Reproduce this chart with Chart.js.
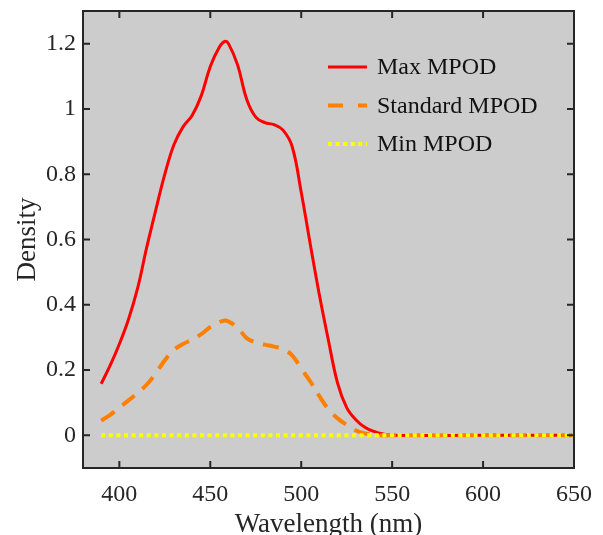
<!DOCTYPE html>
<html>
<head>
<meta charset="utf-8">
<script src="https://cdn.jsdelivr.net/npm/chart.js@4/dist/chart.umd.min.js"></script>
<style>
  body { margin: 0; background: #fff; }
  canvas { display: block; }
</style>
</head>
<body>
<canvas id="myChart" width="603" height="535"></canvas>
<script>
// data
const wavelengths = [390, 395, 400, 405, 410, 415, 420, 425, 430, 435, 440, 445, 450, 455, 458, 460,
  465, 470, 475, 480, 485, 490, 495, 500, 505, 510, 515, 520, 525, 530, 535, 540, 545, 550, 600, 650];
const maxMpod = [0.158, 0.215, 0.28, 0.355, 0.45, 0.575, 0.69, 0.8, 0.89, 0.945, 0.98, 1.04, 1.13, 1.19, 1.207, 1.2,
  1.135, 1.03, 0.975, 0.958, 0.952, 0.935, 0.885, 0.745, 0.585, 0.43, 0.29, 0.16, 0.085, 0.048, 0.025, 0.012, 0.004, 0, 0, 0];
const standardMpod = [0.045, 0.063, 0.085, 0.107, 0.13, 0.155, 0.19, 0.23, 0.262, 0.28, 0.293, 0.31, 0.332, 0.347, 0.352, 0.349,
  0.33, 0.298, 0.285, 0.278, 0.272, 0.264, 0.245, 0.205, 0.165, 0.12, 0.08, 0.052, 0.032, 0.015, 0.006, 0.001, 0, 0, 0, 0];
const minMpod = [0, 0, 0, 0, 0, 0, 0, 0, 0, 0, 0, 0, 0, 0, 0, 0,
  0, 0, 0, 0, 0, 0, 0, 0, 0, 0, 0, 0, 0, 0, 0, 0, 0, 0, 0, 0];
const seriesNames = ["Max MPOD", "Standard MPOD", "Min MPOD"];
const xTicks = [400, 450, 500, 550, 600, 650];
const yTicks = [0, 0.2, 0.4, 0.6, 0.8, 1, 1.2];

const FONT = "'Liberation Serif', 'Times New Roman', serif";
const TEXT = "#262626";

function points(values) {
  return wavelengths.map((w, i) => ({ x: w, y: values[i] }));
}

// gray plot area + box with inward ticks (MATLAB look)
const frame = {
  id: "frame",
  beforeDraw(chart) {
    const { ctx, chartArea: a } = chart;
    ctx.save();
    ctx.fillStyle = "#cccccc";
    ctx.fillRect(a.left, a.top, a.right - a.left, a.bottom - a.top);
    ctx.restore();
  },
  afterDraw(chart) {
    const { ctx, chartArea: a, scales } = chart;
    const len = 7;
    ctx.save();
    ctx.strokeStyle = TEXT;
    ctx.lineWidth = 2;
    ctx.beginPath();
    xTicks.forEach(v => {
      const px = scales.x.getPixelForValue(v);
      ctx.moveTo(px, a.bottom); ctx.lineTo(px, a.bottom - len);
      ctx.moveTo(px, a.top); ctx.lineTo(px, a.top + len);
    });
    yTicks.forEach(v => {
      const py = scales.y.getPixelForValue(v);
      ctx.moveTo(a.left, py); ctx.lineTo(a.left + len, py);
      ctx.moveTo(a.right, py); ctx.lineTo(a.right - len, py);
    });
    ctx.stroke();
    ctx.strokeRect(a.left, a.top, a.right - a.left, a.bottom - a.top);
    ctx.restore();
  }
};

// legend inside the plot, top right
const innerLegend = {
  id: "innerLegend",
  afterDatasetsDraw(chart) {
    const ctx = chart.ctx;
    ctx.save();
    chart.data.datasets.forEach((ds, i) => {
      const y = 67 + i * 38.5;
      ctx.strokeStyle = ds.borderColor;
      ctx.lineWidth = ds.borderWidth;
      ctx.setLineDash(ds.legendDash || []);
      ctx.beginPath();
      ctx.moveTo(328, y);
      ctx.lineTo(367, y);
      ctx.stroke();
      ctx.setLineDash([]);
      ctx.fillStyle = "#111";
      ctx.font = "24px " + FONT;
      ctx.textBaseline = "middle";
      ctx.fillText(ds.label, 377, y + 1);
    });
    ctx.restore();
  }
};

function createChart() {
  const ctx = document.getElementById("myChart");
  new Chart(ctx, {
    type: "line",
    data: {
      datasets: [
        {
          label: seriesNames[0],
          data: points(maxMpod),
          borderColor: "#ff0000",
          borderWidth: 3,
          order: 3,
        },
        {
          label: seriesNames[1],
          data: points(standardMpod),
          borderColor: "#ff8000",
          borderWidth: 4,
          borderDash: [16, 10],
          legendDash: [15, 15],
          order: 2,
        },
        {
          label: seriesNames[2],
          data: points(minMpod),
          borderColor: "#ffff00",
          borderWidth: 4,
          borderDash: [4, 3.6],
          legendDash: [4, 3.6],
          tension: 0,
          order: 1,
        },
      ],
    },
    options: {
      responsive: false,
      animation: false,
      elements: { point: { radius: 0 }, line: { tension: 0.4, fill: false } },
      layout: { padding: { top: 11, right: 29, left: 0, bottom: 0 } },
      plugins: { legend: { display: false }, tooltip: { enabled: false } },
      scales: {
        x: {
          type: "linear",
          min: 380,
          max: 650,
          afterBuildTicks: s => { s.ticks = xTicks.map(v => ({ value: v })); },
          afterFit: s => { s.height = 67; s.paddingLeft = 0; s.paddingRight = 0; },
          grid: { display: false, drawTicks: false },
          border: { display: false },
          ticks: { color: TEXT, font: { family: FONT, size: 24 }, padding: 12, maxRotation: 0 },
          title: { display: true, text: "Wavelength (nm)", color: TEXT, font: { family: FONT, size: 27 }, padding: { top: 0, bottom: -6 } },
        },
        y: {
          min: -0.1,
          max: 1.3,
          afterBuildTicks: s => { s.ticks = yTicks.map(v => ({ value: v })); },
          afterFit: s => { s.width = 83; s.paddingTop = 0; s.paddingBottom = 0; },
          grid: { display: false, drawTicks: false },
          border: { display: false },
          ticks: {
            color: TEXT, font: { family: FONT, size: 24 }, padding: 7,
            callback: v => String(parseFloat(v.toFixed(1))),
          },
          title: { display: true, text: "Density", color: TEXT, font: { family: FONT, size: 27 }, padding: { top: 12, bottom: 0 } },
        },
      },
    },
    plugins: [frame, innerLegend],
  });
}

window.addEventListener("load", function () {
  createChart();
});
</script>
</body>
</html>
